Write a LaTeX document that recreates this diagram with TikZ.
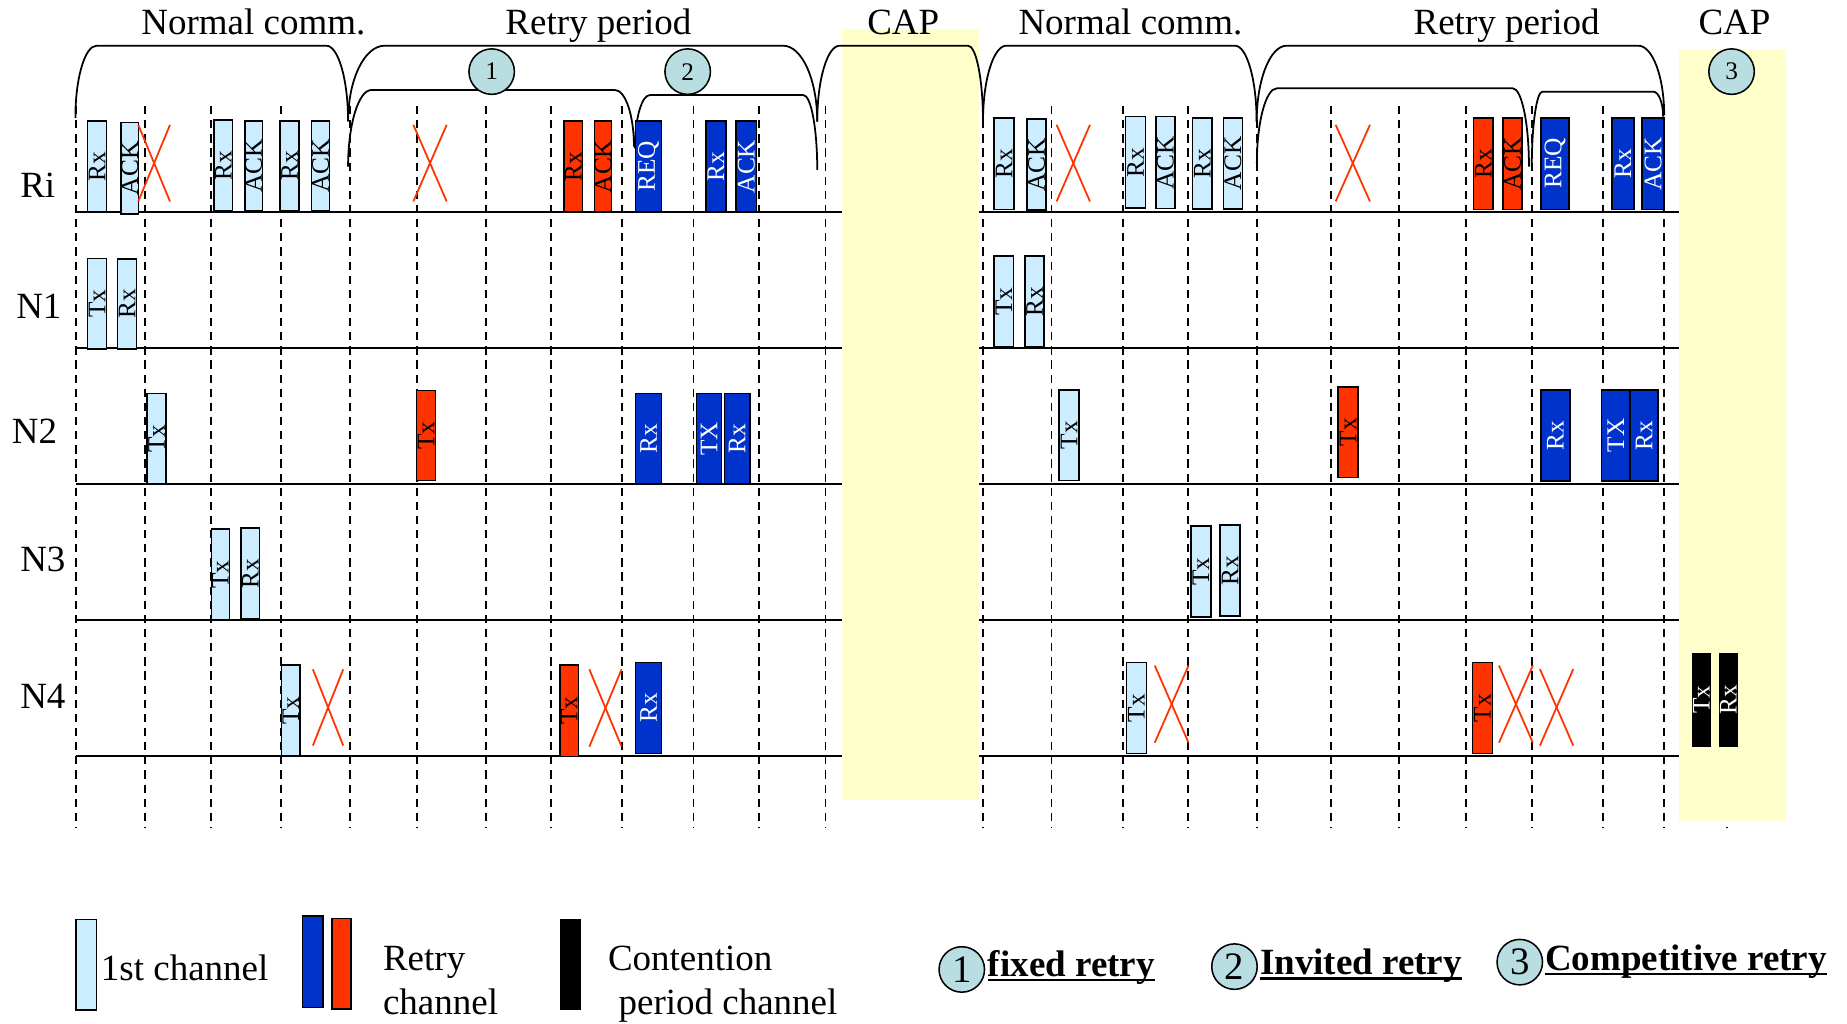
\documentclass[tikz,border=0pt]{standalone}
\usepackage{fontspec}
\setmainfont{Liberation Serif}
\definecolor{lbfill}{RGB}{204,236,255}
\definecolor{rdfill}{RGB}{255,51,0}
\definecolor{blfill}{RGB}{0,51,204}
\definecolor{ylfill}{RGB}{255,255,204}
\definecolor{cfill}{RGB}{185,222,225}
\newcommand\bigf{\fontsize{31.4}{36}\selectfont}
\newcommand\boxf{\fontsize{21.5}{24}\selectfont}
% name x1 x2 y1 y2 style text
\newcommand\chbox[7]{\node[#6, minimum width={(#5)-(#4)}, minimum height={(#3)-(#2)}] (#1) at ({((#2)+(#3))/2},{((#4)+(#5))/2}) {#7};}
% xl yl rxl yt xr yr rxr
\newcommand\mybrace[7]{\draw[brline] (#1,#2) .. controls (#1,{#2-0.552*(#2-#4)}) and ({#1+0.448*#3},#4) .. ({#1+#3},#4) -- ({#5-#7},#4) .. controls ({#5-0.448*#7},#4) and (#5,{#6-0.552*(#6-#4)}) .. (#5,#6);}
\newcommand\mycross[4]{\draw[xline] (#1,#2) -- (#3,#4); \draw[xline] (#1,#4) -- (#3,#2);}
\begin{document}
\begin{tikzpicture}[x=1pt,y=-1pt,
  chan/.style={draw=black, line width=1.3pt, inner sep=0pt, rotate=90, font=\boxf},
  chfirst/.style={chan, fill=lbfill, text=black},
  chred/.style={chan, fill=rdfill, text=black},
  chblue/.style={chan, fill=blfill, text=white},
  chblack/.style={chan, fill=black, text=white},
  legbox/.style={draw=black, line width=1.3pt},
  rowline/.style={line width=1.6pt},
  slotline/.style={line width=1.6pt, dash pattern=on 7pt off 5pt},
  brline/.style={line width=1.5pt},
  xline/.style={draw=rdfill, line width=1.5pt},
  lbl/.style={font=\bigf, inner sep=0pt},
  numc/.style={circle, draw=black, line width=1.3pt, fill=cfill, inner sep=0pt, minimum size=38.6pt},
  ul/.style={line width=2.2pt}]
\useasboundingbox (0,0) rectangle (1568,869);
% dashed slot lines
\foreach \x in {64.3,122.8,178.9,238.3,296.8,353.8,412.3,467.8,527.8,588.7,644.2,700.8,834.2,892.7,953.7,1008.5,1067,1130,1187.4,1244.8,1300.7,1361.2,1412.5,1466}
  \draw[slotline] (\x,90) -- (\x,703);
% row lines
\foreach \y in {180,295.6,411,526.5,642}{
  \draw[rowline] (64.3,\y) -- (714.5,\y);
  \draw[rowline] (831.4,\y) -- (1425.5,\y);}
% CAP areas
\fill[ylfill] (714.5,24.9) rectangle (831.4,679);
\fill[ylfill] (1425.5,41.9) rectangle (1516.3,697);
% braces
\mybrace{64}{100}{18}{38.8}{295.5}{103}{18.5}
\mybrace{295.5}{103}{31}{38.8}{693.8}{103.3}{29}
\mybrace{693.8}{103.3}{19}{38.8}{834.5}{103.3}{12.7}
\mybrace{834.5}{103.3}{19.8}{38.8}{1066.8}{103.5}{18.4}
\mybrace{1066.8}{103.5}{25.5}{38.8}{1412.8}{98}{22}
\mybrace{295.5}{141.5}{19.8}{76.4}{538.2}{124.5}{16.2}
\mybrace{539}{126}{12.7}{80.7}{693.8}{144.3}{11.8}
\mybrace{1067}{138.7}{17}{75}{1298}{141.5}{13.8}
\mybrace{1300.4}{141.5}{9}{77.8}{1411.9}{99}{8.5}
% circles
\node[numc, font=\boxf] (c1) at (417.4,60.8) {1};
\node[numc, font=\boxf] (c2) at (583.8,60.8) {2};
\node[numc, font=\boxf] (c3) at (1470,60.8) {3};
% top labels
\node[lbl, anchor=base] (t1) at (215.1,29.7) {Normal comm.};
\node[lbl, anchor=base] (t2) at (508,29.7) {Retry period};
\node[lbl, anchor=base] (t3) at (766.8,29.7) {CAP};
\node[lbl, anchor=base] (t4) at (959.7,29.7) {Normal comm.};
\node[lbl, anchor=base] (t5) at (1279,29.7) {Retry period};
\node[lbl, anchor=base] (t6) at (1472.5,29.7) {CAP};
% row labels
\node[lbl, anchor=base west] (lRi) at (17,168) {Ri};
\node[lbl, anchor=base west] (lN1) at (13.6,270.2) {N1};
\node[lbl, anchor=base west] (lN2) at (9.9,376.3) {N2};
\node[lbl, anchor=base west] (lN3) at (17,485.3) {N3};
\node[lbl, anchor=base west] (lN4) at (17,601.3) {N4};
% Ri row
\chbox{ri1}{74.4}{90.5}{102.7}{180}{chfirst}{Rx}
\chbox{ri2}{102.7}{117.7}{104}{181.7}{chfirst}{ACK}
\chbox{ri3}{181.7}{197.5}{101.9}{178.8}{chfirst}{Rx}
\chbox{ri4}{208}{222.7}{102.5}{179}{chfirst}{ACK}
\chbox{ri5}{237.7}{253.8}{102.5}{179}{chfirst}{Rx}
\chbox{ri6}{264.6}{279.6}{102.5}{179}{chfirst}{ACK}
\chbox{ri7}{479}{494.6}{102.7}{180}{chred}{Rx}
\chbox{ri8}{504.5}{519.3}{102.7}{180}{chred}{ACK}
\chbox{ri9}{539.6}{561.7}{102.7}{180}{chblue}{REQ}
\chbox{ri10}{599.3}{616.3}{102.7}{180}{chblue}{Rx}
\chbox{ri11}{624.8}{642.3}{102.7}{180}{chblue}{ACK}
\chbox{ri12}{843.8}{860.8}{100}{177.7}{chfirst}{Rx}
\chbox{ri13}{872}{888}{101}{178.5}{chfirst}{ACK}
\chbox{ri14}{955.6}{972.6}{99}{176.8}{chfirst}{Rx}
\chbox{ri15}{981.3}{997.5}{99}{177}{chfirst}{ACK}
\chbox{ri16}{1012.2}{1029}{100}{177.5}{chfirst}{Rx}
\chbox{ri17}{1038.5}{1054.6}{100}{177.5}{chfirst}{ACK}
\chbox{ri18}{1250.9}{1267.4}{100}{177.7}{chred}{Rx}
\chbox{ri19}{1276}{1292.3}{100}{177.7}{chred}{ACK}
\chbox{ri20}{1308.4}{1332}{100}{177.7}{chblue}{REQ}
\chbox{ri21}{1368.3}{1387}{100}{177.7}{chblue}{Rx}
\chbox{ri22}{1394}{1412.8}{100}{177.7}{chblue}{ACK}
% N1 row
\chbox{na1}{74.4}{90.5}{219.3}{296.5}{chfirst}{Tx}
\chbox{na2}{99.9}{116}{219.8}{296.5}{chfirst}{Rx}
\chbox{na3}{844}{860.5}{217.5}{294.5}{chfirst}{Tx}
\chbox{na4}{870}{886.5}{217.5}{294.5}{chfirst}{Rx}
% N2 row
\chbox{nb1}{125}{140.7}{333.9}{411}{chfirst}{Tx}
\chbox{nb2}{353.7}{369.9}{331.6}{408}{chred}{Tx}
\chbox{nb3}{539.6}{561.7}{333.9}{410.9}{chblue}{Rx}
\chbox{nb4}{591.4}{612.6}{333.9}{410.9}{chblue}{TX}
\chbox{nb5}{614.9}{636.7}{333.9}{410.9}{chblue}{Rx}
\chbox{nb6}{899}{916}{331}{408}{chfirst}{Tx}
\chbox{nb7}{1136}{1153}{328.5}{405.5}{chred}{Tx}
\chbox{nb8}{1308.2}{1332.7}{331}{408.3}{chblue}{Rx}
\chbox{nb9}{1359.7}{1383.7}{331}{408.3}{chblue}{TX}
\chbox{nb10}{1383.7}{1407.7}{331}{408.3}{chblue}{Rx}
% N3 row
\chbox{nc1}{179.4}{194.9}{449.3}{526.3}{chfirst}{Tx}
\chbox{nc2}{204.7}{220.3}{448.3}{525.5}{chfirst}{Rx}
\chbox{nc3}{1011}{1028}{446.5}{524}{chfirst}{Tx}
\chbox{nc4}{1035.7}{1052.7}{445.5}{523}{chfirst}{Rx}
% N4 row
\chbox{nd1}{238.8}{254.9}{564.5}{641.8}{chfirst}{Tx}
\chbox{nd2}{475.4}{491}{564.5}{642.3}{chred}{Tx}
\chbox{nd3}{539.6}{561.7}{562.3}{639.5}{chblue}{Rx}
\chbox{nd4}{956.2}{973.2}{562.5}{639.5}{chfirst}{Tx}
\chbox{nd5}{1250}{1267}{562.5}{639.5}{chred}{Tx}
\chbox{nd6}{1437}{1451.5}{554.6}{633.3}{chblack}{Tx}
\chbox{nd7}{1460}{1474.5}{554.6}{633.3}{chblack}{Rx}
% failures
\mycross{117.4}{106}{144.3}{171}
\mycross{350.9}{106}{379.2}{171}
\mycross{897}{106}{925.3}{171}
\mycross{1133.9}{106}{1163}{171}
\mycross{265.6}{568.2}{291.4}{633}
\mycross{500.3}{568.2}{527.7}{633.9}
\mycross{980.3}{565}{1009}{630.5}
\mycross{1272.5}{565}{1301.3}{630.5}
\mycross{1307.3}{568}{1335.6}{633}
% legend
\fill[lbfill] (64.3,780.4) rectangle (81.9,857.4); \draw[legbox] (64.3,780.4) rectangle (81.9,857.4);
\node[lbl, anchor=base west] (g1) at (85.5,832) {1st channel};
\fill[blfill] (256.8,777.6) rectangle (274.4,855.4); \draw[legbox] (256.8,777.6) rectangle (274.4,855.4);
\fill[rdfill] (281.7,779.6) rectangle (298.2,856.8); \draw[legbox] (281.7,779.6) rectangle (298.2,856.8);
\node[lbl, anchor=base west] (g2) at (325,824) {Retry};
\node[lbl, anchor=base west] (g3) at (325,861) {channel};
\fill[black] (475.1,780.4) rectangle (493.6,857.4);
\node[lbl, anchor=base west] (g4) at (516,824) {Contention};
\node[lbl, anchor=base west] (g5) at (525,861) {period channel};
\node[numc, font=\fontsize{33}{36}\selectfont] (k1) at (816.5,823) {1};
\node[lbl, anchor=base west, font=\bigf\bfseries] (h1) at (838.5,829) {fixed retry};
\draw[ul] ([yshift=-3pt]h1.base west) -- ([yshift=-3pt]h1.base east);
\node[numc, font=\fontsize{33}{36}\selectfont] (k2) at (1048,820.6) {2};
\node[lbl, anchor=base west, font=\bigf\bfseries] (h2) at (1069.5,827.5) {Invited retry};
\draw[ul] ([yshift=-3pt]h2.base west) -- ([yshift=-3pt]h2.base east);
\node[numc, font=\fontsize{33}{36}\selectfont] (k3) at (1290.2,816.8) {3};
\node[lbl, anchor=base west, font=\bigf\bfseries] (h3) at (1311.5,823.8) {Competitive retry};
\draw[ul] ([yshift=-3pt]h3.base west) -- ([yshift=-3pt]h3.base east);
\end{tikzpicture}
\end{document}
